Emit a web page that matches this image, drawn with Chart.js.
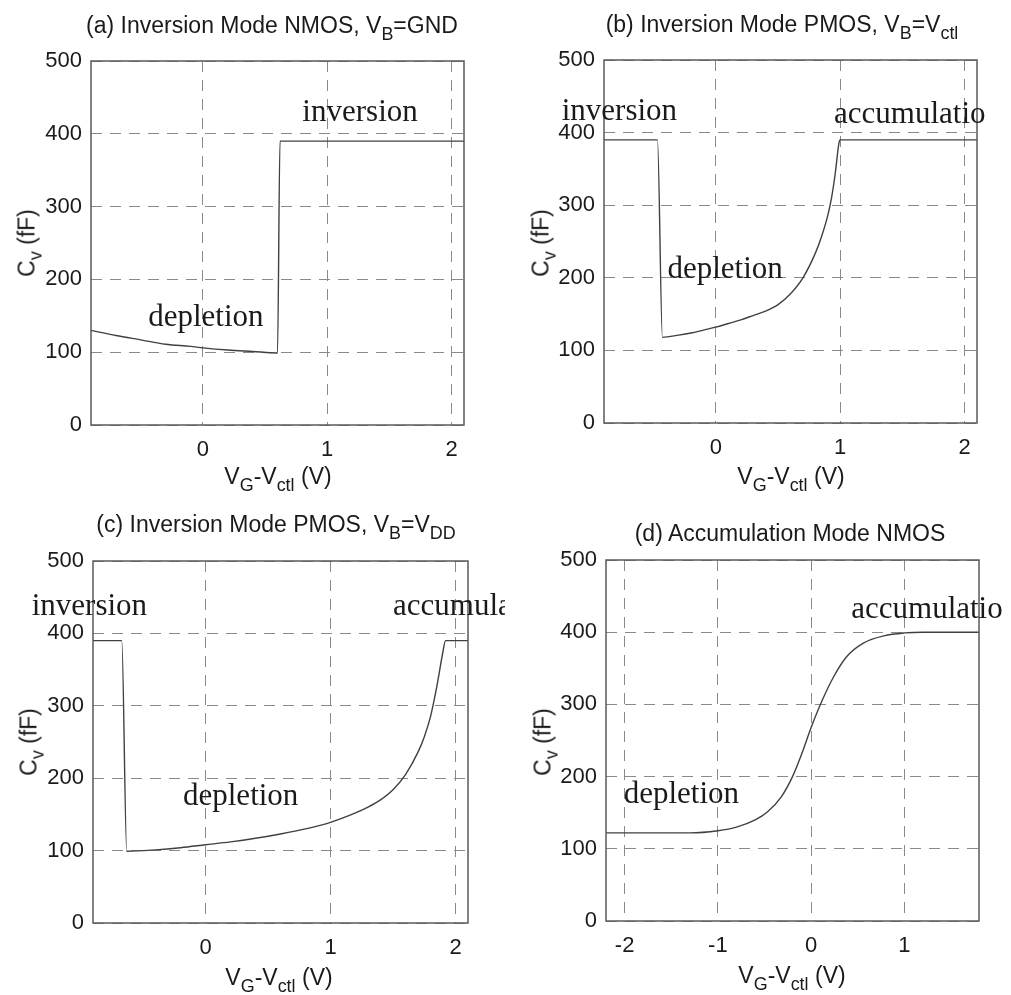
<!DOCTYPE html>
<html>
<head>
<meta charset="utf-8">
<title>C-V curves</title>
<script src="https://cdn.jsdelivr.net/npm/chart.js@4.4.0/dist/chart.umd.min.js"></script>
<style>
  body { margin: 0; background: #fff; }
  #wrap { position: relative; width: 1011px; height: 995px; overflow: hidden;
          font-family: "Liberation Sans", Arial, sans-serif; color: #1a1a1a; }
  canvas { position: absolute; }
  .t { position: absolute; white-space: nowrap; font-size: 23px; line-height: 1;
       transform: translate(-50%, -50%); }
  .t sub { font-size: 0.78em; position: relative; top: 0.38em; vertical-align: baseline; }
  .yl { transform: translate(-50%, -50%) rotate(-90deg); }
</style>
</head>
<body>
<div id="wrap">
  <canvas id="cA" width="505" height="500" style="left:0;top:0"></canvas>
  <canvas id="cB" width="506" height="500" style="left:505px;top:0"></canvas>
  <canvas id="cC" width="505" height="495" style="left:0;top:500px"></canvas>
  <canvas id="cD" width="506" height="495" style="left:505px;top:500px"></canvas>

  <div class="t" style="left:272px;top:25px">(a) Inversion Mode NMOS, V<sub>B</sub>=GND</div>
  <div class="t" style="left:782px;top:24px">(b) Inversion Mode PMOS, V<sub>B</sub>=V<sub>ctl</sub></div>
  <div class="t" style="left:276px;top:524px">(c) Inversion Mode PMOS, V<sub>B</sub>=V<sub>DD</sub></div>
  <div class="t" style="left:790px;top:533px">(d) Accumulation Mode NMOS</div>

  <div class="t" style="left:278px;top:476px">V<sub>G</sub>-V<sub>ctl</sub> (V)</div>
  <div class="t" style="left:791px;top:476px">V<sub>G</sub>-V<sub>ctl</sub> (V)</div>
  <div class="t" style="left:279px;top:977px">V<sub>G</sub>-V<sub>ctl</sub> (V)</div>
  <div class="t" style="left:792px;top:975px">V<sub>G</sub>-V<sub>ctl</sub> (V)</div>

  <div class="t yl" style="left:27px;top:243px">C<sub>v</sub> (fF)</div>
  <div class="t yl" style="left:541px;top:243px">C<sub>v</sub> (fF)</div>
  <div class="t yl" style="left:29px;top:742px">C<sub>v</sub> (fF)</div>
  <div class="t yl" style="left:543px;top:742px">C<sub>v</sub> (fF)</div>
</div>

<script>
// tick values
const yTicks = [0, 100, 200, 300, 400, 500];
const xTicksABC = [0, 1, 2];
const xTicksD = [-2, -1, 0, 1];

// (a) inversion mode NMOS, VB = GND
const vgA = [-0.9, -0.7, -0.5, -0.3, -0.1, 0, 0.2, 0.4, 0.6, 0.62, 2.1];
const cvA = [130, 123, 117, 111, 108, 106, 103, 101, 99, 390, 390];

// (b) inversion mode PMOS, VB = Vctl
const vgB = [-0.9, -0.47, -0.43, -0.3, -0.2, -0.1, 0, 0.1, 0.2, 0.3, 0.4, 0.5, 0.6, 0.7, 0.8, 0.85, 0.9, 0.93, 0.96, 0.99, 1.0, 2.1];
const cvB = [390, 390, 118, 121, 124, 128, 132, 137, 142, 148, 154, 163, 178, 200, 234, 257, 286, 310, 344, 386, 390, 390];

// (c) inversion mode PMOS, VB = VDD
const vgC = [-0.9, -0.67, -0.63, -0.4, -0.2, 0, 0.2, 0.4, 0.6, 0.8, 1.0, 1.2, 1.3, 1.4, 1.5, 1.6, 1.7, 1.75, 1.8, 1.85, 1.9, 1.92, 2.1];
const cvC = [390, 390, 99, 101, 104, 108, 112, 117, 123, 130, 139, 152, 160, 170, 184, 205, 236, 257, 285, 326, 375, 390, 390];

// (d) accumulation mode NMOS
const vgD = [-2.2, -1.3, -1.0, -0.8, -0.6, -0.47, -0.32, -0.2, -0.1, 0, 0.12, 0.24, 0.38, 0.56, 0.78, 1.0, 1.2, 1.8];
const cvD = [122, 122, 125, 130, 140, 151, 172, 200, 232, 268, 306, 338, 366, 385, 395, 399, 400, 400];

// region labels (x, y in data units, left/baseline)
const notesA = [['inversion', 0.8, 418], ['depletion', -0.44, 136]];
const notesB = [['inversion', -1.24, 417], ['depletion', -0.39, 200], ['accumulatio', 0.95, 413]];
const notesC = [['inversion', -1.39, 425], ['depletion', -0.18, 163], ['accumulatio', 1.5, 425]];
const notesD = [['depletion', -2.01, 163], ['accumulatio', 0.43, 420]];

const tickFont = { family: '"Liberation Sans", Arial, sans-serif', size: 22 };

// frame round the plot area + the serif region labels
const frameNotes = {
  id: 'frameNotes',
  afterDraw(chart, args, opts) {
    const ctx = chart.ctx, a = chart.chartArea;
    ctx.save();
    ctx.strokeStyle = '#5a5a5a';
    ctx.lineWidth = 1.5;
    ctx.setLineDash([]);
    ctx.strokeRect(a.left, a.top, a.right - a.left, a.bottom - a.top);
    ctx.fillStyle = '#1a1a1a';
    ctx.font = '31px "Liberation Serif", "Times New Roman", serif';
    ctx.textAlign = 'left';
    ctx.textBaseline = 'alphabetic';
    (opts.items || []).forEach(n => {
      ctx.fillText(n[0], chart.scales.x.getPixelForValue(n[1]), chart.scales.y.getPixelForValue(n[2]));
    });
    ctx.restore();
  }
};

function makePanel(id, xs, ys, xMin, xMax, xTicks, area, notes) {
  const cv = document.getElementById(id);
  const W = cv.width, H = cv.height;
  const xAxisH = 40;
  new Chart(cv, {
    type: 'scatter',
    data: {
      datasets: [{
        data: xs.map((x, i) => ({ x: x, y: ys[i] })),
        showLine: true,
        borderColor: '#404040',
        borderWidth: 1.4,
        pointRadius: 0,
        cubicInterpolationMode: 'monotone',
        fill: false
      }]
    },
    options: {
      responsive: false,
      animation: false,
      events: [],
      layout: { padding: { top: area.t, right: W - area.r, bottom: H - area.b - xAxisH, left: 0 } },
      plugins: {
        legend: { display: false },
        tooltip: { enabled: false },
        frameNotes: { items: notes }
      },
      scales: {
        x: {
          type: 'linear', min: xMin, max: xMax,
          afterBuildTicks: s => { s.ticks = xTicks.map(v => ({ value: v })); },
          afterFit: s => { s.height = xAxisH; },
          grid: { color: '#8a8a8a', lineWidth: 1, drawTicks: false },
          border: { display: false, dash: [11, 8] },
          ticks: { padding: 12, color: '#1a1a1a', font: tickFont, maxRotation: 0, autoSkip: false }
        },
        y: {
          type: 'linear', min: 0, max: 500,
          afterBuildTicks: s => { s.ticks = yTicks.map(v => ({ value: v })); },
          afterFit: s => { s.width = area.l; },
          grid: { color: '#8a8a8a', lineWidth: 1, drawTicks: false },
          border: { display: false, dash: [11, 8] },
          ticks: { padding: 9, color: '#1a1a1a', font: tickFont, autoSkip: false }
        }
      }
    },
    plugins: [frameNotes]
  });
}

makePanel('cA', vgA, cvA, -0.9, 2.1, xTicksABC, { l: 91, t: 61, r: 464, b: 425 }, notesA);
makePanel('cB', vgB, cvB, -0.9, 2.1, xTicksABC, { l: 99, t: 60, r: 472, b: 423 }, notesB);
makePanel('cC', vgC, cvC, -0.9, 2.1, xTicksABC, { l: 93, t: 61, r: 468, b: 423 }, notesC);
makePanel('cD', vgD, cvD, -2.2, 1.8, xTicksD, { l: 101, t: 60, r: 474, b: 421 }, notesD);
</script>
</body>
</html>
